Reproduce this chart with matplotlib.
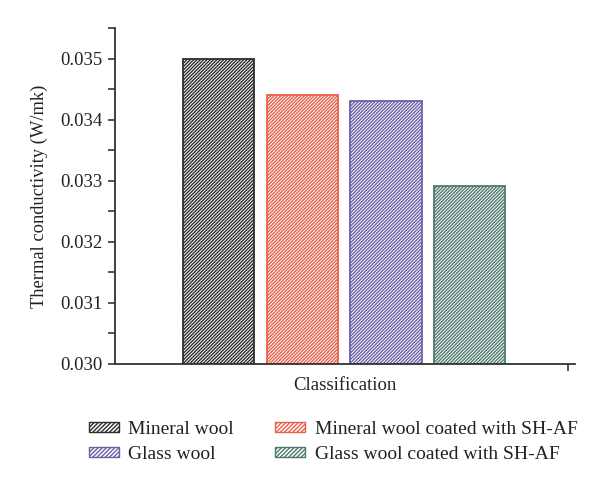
import matplotlib.pyplot as plt
from matplotlib.patches import Patch

categories = ["Mineral wool", "Mineral wool coated with SH-AF",
              "Glass wool", "Glass wool coated with SH-AF"]
values = [0.0350, 0.03440, 0.03430, 0.03292]
colors = ["#2e2e2e", "#e8604c", "#6a62a8", "#4f7a70"]

plt.rcParams['font.family'] = ['Liberation Serif', 'DejaVu Serif']
plt.rcParams['hatch.linewidth'] = 1.0

fig = plt.figure(figsize=(6.02, 4.91), dpi=100)
ax = fig.add_axes([115 / 602, 1 - 364 / 491, 460 / 602, 336 / 491])

positions = [1.24 + i for i in range(len(values))]
for x, v, c in zip(positions, values, colors):
    ax.bar(x, v - 0.030, bottom=0.030, width=0.85, facecolor='white',
           edgecolor=c, hatch='/' * 10, linewidth=1.3)

ax.set_xlim(0, 5.5)
ax.set_ylim(0.030, 0.0355)
ax.set_yticks([0.030, 0.031, 0.032, 0.033, 0.034, 0.035])
ax.set_yticklabels(["0.030", "0.031", "0.032", "0.033", "0.034", "0.035"])
ax.set_yticks([0.0305, 0.0315, 0.0325, 0.0335, 0.0345, 0.0355], minor=True)
ax.set_xticks([5.42])
ax.set_xticklabels([""])
ax.tick_params(axis='y', which='major', length=5, width=1.2, labelsize=13.5, pad=4, colors='#333333')
ax.tick_params(axis='y', which='minor', length=5, width=1.2, colors='#333333')
ax.tick_params(axis='x', length=5, width=1.2, colors='#333333')
for lbl in ax.get_yticklabels():
    lbl.set_color('#222222')

for s in ['top', 'right']:
    ax.spines[s].set_visible(False)
for s in ['left', 'bottom']:
    ax.spines[s].set_linewidth(1.3)
    ax.spines[s].set_color('#333333')

ax.set_ylabel("Thermal conductivity (W/mk)", fontsize=13.3, labelpad=9, color='#222222')
ax.set_xlabel("Classification", fontsize=13.5, labelpad=1, color='#222222')

# legend order: row-wise across two columns
order = [0, 2, 1, 3]
handles = [Patch(facecolor='white', edgecolor=colors[i], hatch='/' * 8, linewidth=1.0)
           for i in order]
labels = [categories[i] for i in order]
fig.legend(handles, labels, ncol=2, loc='center left',
           bbox_to_anchor=(71 / 602, 1 - 442 / 491), frameon=False,
           fontsize=14, handlelength=1.55, handleheight=0.4,
           columnspacing=2.1, handletextpad=0.5, labelspacing=0.42,
           labelcolor='#222222')

fig.savefig("out.png", dpi=100)
